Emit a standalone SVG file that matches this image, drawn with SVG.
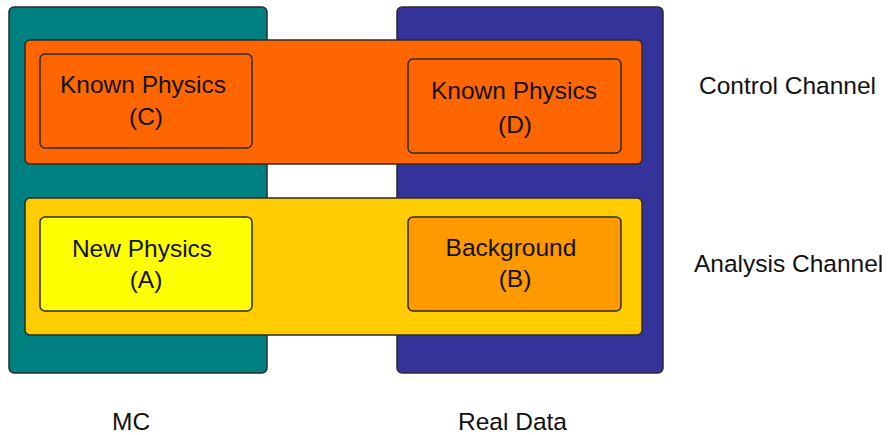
<svg xmlns="http://www.w3.org/2000/svg" width="890" height="435" viewBox="0 0 890 435">
<style>
.box{stroke:#2b2b2b;stroke-width:1.5}
.t{font-family:"Liberation Sans",Arial,sans-serif;font-size:24.5px;fill:#111;text-anchor:middle}
.l{font-family:"Liberation Sans",Arial,sans-serif;font-size:24.5px;fill:#111}
</style>
<rect width="890" height="435" fill="#fff"/>
<g id="mc-column"><rect class="box" x="9" y="7" width="258" height="366" rx="5" fill="#008080"/></g>
<g id="real-data-column"><rect class="box" x="397" y="7" width="266" height="366" rx="5" fill="#333399"/></g>
<g id="control-band"><rect class="box" x="25" y="40" width="617" height="124" rx="5" fill="#FF6600"/></g>
<g id="analysis-band"><rect class="box" x="25" y="198" width="617" height="137" rx="5" fill="#FFCC00"/></g>
<g id="node-c"><rect class="box" x="40" y="54" width="212" height="94" rx="5" fill="#FF6600"/>
<text class="t" x="143" y="93">Known Physics</text><text class="t" x="146" y="125">(C)</text></g>
<g id="node-d"><rect class="box" x="408" y="59" width="213" height="94" rx="5" fill="#FF6600"/>
<text class="t" x="514" y="99">Known Physics</text><text class="t" x="515" y="133">(D)</text></g>
<g id="node-a"><rect class="box" x="40" y="217" width="212" height="94" rx="5" fill="#FFFF00"/>
<text class="t" x="142" y="257">New Physics</text><text class="t" x="146" y="288">(A)</text></g>
<g id="node-b"><rect class="box" x="408" y="217" width="213" height="94" rx="5" fill="#FF9900"/>
<text class="t" x="511" y="256">Background</text><text class="t" x="515" y="287">(B)</text></g>
<g id="labels">
<text class="l" x="699" y="94">Control Channel</text>
<text class="l" x="694" y="272">Analysis Channel</text>
<text class="l" x="112" y="430">MC</text>
<text class="l" x="458" y="430">Real Data</text>
</g>
<g id="connectors"></g>
</svg>
